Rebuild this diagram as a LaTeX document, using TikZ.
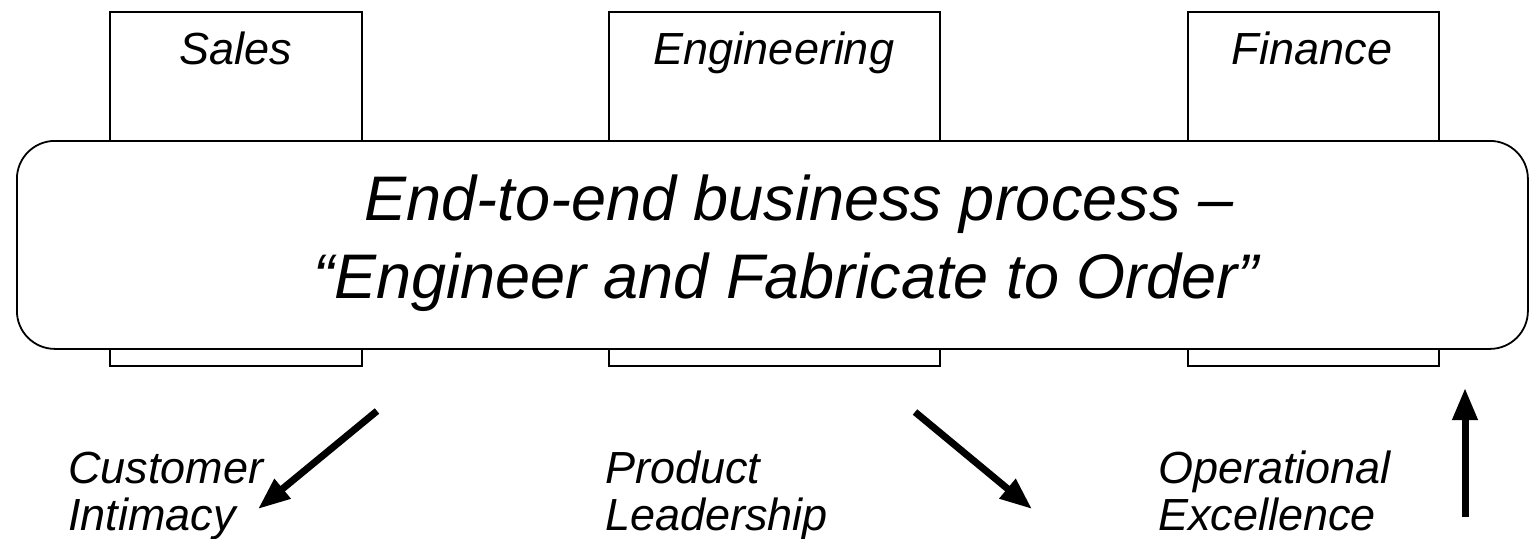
\documentclass[tikz,border=0pt]{standalone}
\usepackage{fontspec}
\setmainfont{Liberation Sans}
\usetikzlibrary{arrows.meta}
\begin{document}
\begin{tikzpicture}[x=1pt,y=-1pt,
  dept/.style={draw=black,line width=1.8pt,fill=white,minimum width=#1,minimum height=354pt,inner sep=0pt,anchor=north west},
  proc/.style={draw=black,line width=1.8pt,fill=white,rounded corners=38pt,minimum width=1511pt,minimum height=208pt,inner sep=0pt,anchor=north west},
  small/.style={font=\fontsize{45}{47}\selectfont\itshape,inner sep=0pt,anchor=base},
  big/.style={font=\fontsize{63}{78}\selectfont\itshape,inner sep=0pt,anchor=base},
  lbl/.style={font=\fontsize{45}{47}\selectfont\itshape,inner sep=0pt,anchor=base west},
  arr/.style={line width=7pt,-{Triangle[length=32pt,width=24pt]}}]
\useasboundingbox (0,0) rectangle (1531,538);
\node[dept=252pt] (sales) at (109,11) {};
\node[dept=331pt] (eng) at (608,11) {};
\node[dept=251pt] (fin) at (1187,11) {};
\node[small] (salesT) at (236,64) {Sales};
\node[small] (engT) at (774,64) {Engineering};
\node[small] (finT) at (1312,64) {Finance};
\node[proc] (process) at (16,140) {};
\node[big] (l1) at (799,220) {End-to-end business process –};
\node[big] (l2) at (786,298) {“Engineer and Fabricate to Order”};
\node[lbl] (ci1) at (68,483) {Customer};
\node[lbl] (ci2) at (68,530) {Intimacy};
\node[lbl] (pl1) at (605,483) {Product};
\node[lbl] (pl2) at (605,530) {Leadership};
\node[lbl] (oe1) at (1158,483) {Operational};
\node[lbl] (oe2) at (1158,530) {Excellence};
\coordinate (a1s) at (377,411);
\coordinate (a1e) at (258,509);
\coordinate (a2s) at (915,412);
\coordinate (a2e) at (1032,509);
\coordinate (a3s) at (1465,517);
\coordinate (a3e) at (1465,388);
\draw[arr] (a1s) -- (a1e);
\draw[arr] (a2s) -- (a2e);
\draw[arr] (a3s) -- (a3e);
\end{tikzpicture}
\end{document}
